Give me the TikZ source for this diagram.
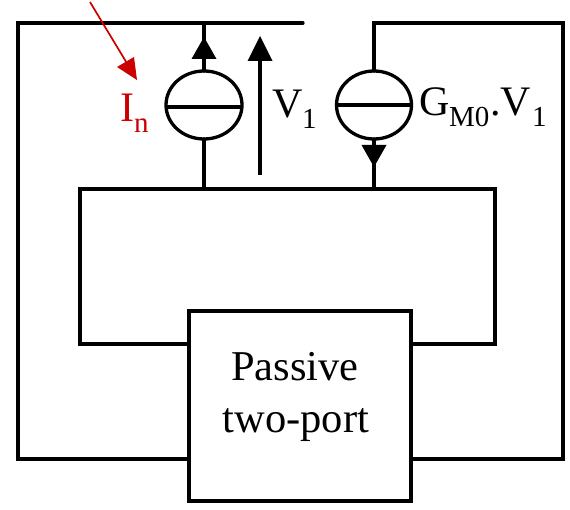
\documentclass[tikz,border=0pt]{standalone}
\usepackage{fontspec}
\setmainfont{Liberation Serif}
\usetikzlibrary{shapes.geometric}
\definecolor{redn}{RGB}{204,0,0}
\tikzset{
  wire/.style={line width=3.3pt,line cap=round,line join=miter},
  srcshape/.style={draw,ellipse,line width=3.3pt,minimum width=#1,minimum height=68pt,inner sep=0pt,outer sep=0pt},
  tip/.style={fill=black,draw=none},
  lab/.style={inner sep=0pt,anchor=base west,font=\fontsize{42}{46}\selectfont},
  subs/.style={inner sep=0pt,anchor=base west,font=\fontsize{29}{32}\selectfont}
}
\begin{document}
\begin{tikzpicture}[x=1pt,y=-1pt]
\useasboundingbox (0,0) rectangle (570,510);
\node[draw,line width=3.3pt,minimum width=222pt,minimum height=190pt,inner sep=0pt,outer sep=0pt] (box) at (300,406) {};
\node[inner sep=0pt,anchor=base,font=\fontsize{42.5}{46}\selectfont] (p1) at (295,381) {Passive};
\node[inner sep=0pt,anchor=base,font=\fontsize{42.5}{46}\selectfont] (p2) at (296,432) {two-port};
\node[srcshape=76pt] (s1) at (204,105) {};
\node[srcshape=75pt] (s2) at (374,105) {};
\coordinate (m1l) at (167,107);
\coordinate (m1r) at (241,107);
\draw[line width=3.3pt] (m1l) -- (m1r);
\draw[line width=3.3pt] (s2.west) -- (s2.east);
% named points
\coordinate (tl) at (18,23);
\coordinate (tend) at (303,23);
\coordinate (bl) at (18,459);
\coordinate (t1) at (204,23);
\coordinate (b1) at (204,189);
\coordinate (t2) at (374,23);
\coordinate (tr) at (563,23);
\coordinate (br) at (563,459);
\coordinate (b2) at (374,189);
\coordinate (il) at (80,189);
\coordinate (ir) at (495,189);
\coordinate (ill) at (80,344);
\coordinate (irr) at (495,344);
% wires
\draw[wire] (tend) -- (tl) -- (bl) -- (bl -| box.west);
\draw[wire] (s2.north) -- (t2) -- (tr) -- (br) -- (br -| box.east);
\draw[wire] (ill -| box.west) -- (ill) -- (il) -- (ir) -- (irr) -- (irr -| box.east);
\draw[wire] (t1) -- (s1.north);
\draw[wire] (s1.south) -- (b1);
\draw[wire] (s2.south) -- (b2);
% arrow heads
\fill[tip] (204,37) -- (191.5,59) -- (216.5,59) -- cycle;
\fill[tip] (374,167) -- (361.5,145) -- (386.5,145) -- cycle;
% V1 arrow
\coordinate (va) at (260,175);
\coordinate (vb) at (260,50);
\draw[line width=3.3pt] (va) -- (vb);
\fill[tip] (260,36) -- (247.5,61) -- (272.5,61) -- cycle;
% red arrow
\coordinate (ra) at (90,2);
\coordinate (rb) at (128,65);
\draw[redn,line width=1.7pt] (ra) -- (rb);
\fill[redn] (137,80) -- (117,67) -- (134,57) -- cycle;
% labels
\node[lab,text=redn] (in) at (120,122) {I};
\node[subs,text=redn] (ins) at (134,133) {n};
\node[lab] (v1) at (272,118) {V};
\node[subs] (v1s) at (302,129) {1};
\node[lab] (g) at (419,116) {G};
\node[subs] (gs) at (449,127) {M0};
\node[lab] (g2) at (490,116) {.V};
\node[subs] (g2s) at (532,127) {1};
\end{tikzpicture}
\end{document}
